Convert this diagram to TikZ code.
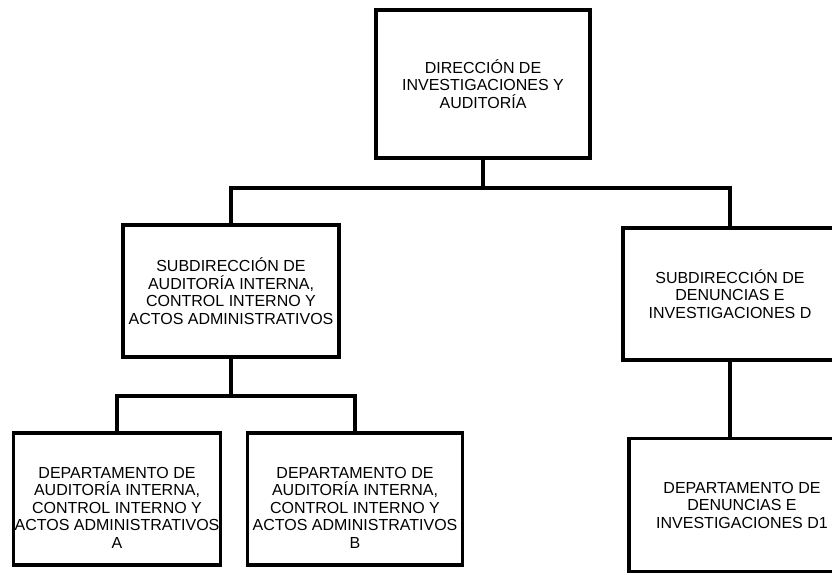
\documentclass[tikz,border=0pt]{standalone}
\usepackage{fontspec}
\setmainfont{Liberation Sans}
\newcommand{\dropline}{\rule{0pt}{28pt}}
\begin{document}
\begin{tikzpicture}[x=1pt,y=-1pt,
  unit/.style={draw=black, line width=3.2pt, fill=white, inner sep=0pt,
    align=center, font=\fontsize{16}{17.5}\selectfont},
  link/.style={line width=3.2pt, line cap=rect}]
\useasboundingbox (0,0) rectangle (832,574);
\clip (0,0) rectangle (832,574);

% organisation units
\node[unit, minimum width=214pt, minimum height=148pt] (dir) at (483,84)
  {DIRECCIÓN DE\\INVESTIGACIONES Y\\AUDITORÍA};
\node[unit, minimum width=216pt, minimum height=132pt] (subA) at (231,291)
  {SUBDIRECCIÓN DE\\AUDITORÍA INTERNA,\\CONTROL INTERNO Y\\ACTOS ADMINISTRATIVOS};
\node[unit, minimum width=214pt, minimum height=132pt] (subD) at (730,294)
  {SUBDIRECCIÓN DE\\DENUNCIAS E\\INVESTIGACIONES D};
\node[unit, minimum width=207pt, minimum height=132pt] (depA) at (117,499)
  {\dropline DEPARTAMENTO DE\\AUDITORÍA INTERNA,\\CONTROL INTERNO Y\\ACTOS ADMINISTRATIVOS\\A};
\node[unit, minimum width=215pt, minimum height=132pt] (depB) at (355,499)
  {\dropline DEPARTAMENTO DE\\AUDITORÍA INTERNA,\\CONTROL INTERNO Y\\ACTOS ADMINISTRATIVOS\\B};
\node[unit, minimum width=226pt, minimum height=133pt] (depD) at (742,505)
  {DEPARTAMENTO DE\\DENUNCIAS E\\INVESTIGACIONES D1};

% bus lines
\coordinate (bus1) at (483,188);
\coordinate (bus2) at (231,396);

% connectors
\draw[link] (dir.south) -- (bus1);
\draw[link] (subA.north) |- (bus1) -| (subD.north);
\draw[link] (subA.south) -- (bus2);
\draw[link] (depA.north) |- (bus2) -| (depB.north);
\draw[link] (subD.south) -- (subD.south |- depD.north);
\end{tikzpicture}
\end{document}
